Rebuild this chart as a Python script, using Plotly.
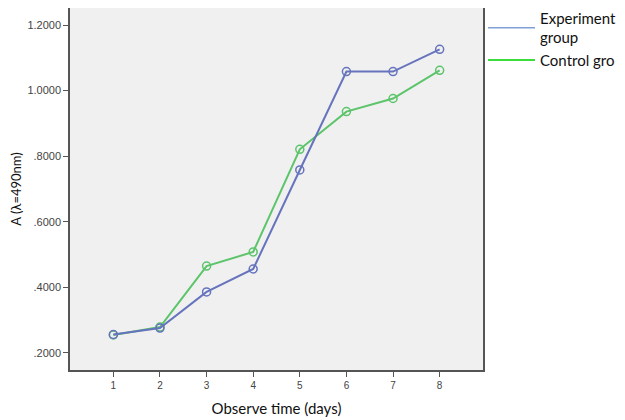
import plotly.graph_objects as go

days = [1, 2, 3, 4, 5, 6, 7, 8]
experiment = [0.256, 0.276, 0.386, 0.456, 0.758, 1.058, 1.058, 1.126]
control = [0.255, 0.279, 0.465, 0.508, 0.821, 0.936, 0.976, 1.062]
ytick_vals = [0.2, 0.4, 0.6, 0.8, 1.0, 1.2]
ytick_text = [".2000", ".4000", ".6000", ".8000", "1.0000", "1.2000"]

blue = "#6673bd"
green = "#5cc46a"

fig = go.Figure()
fig.add_trace(go.Scatter(x=days, y=control, mode="lines+markers", showlegend=False,
                         line=dict(color=green, width=2),
                         marker=dict(symbol="circle-open", size=8, color=green, line=dict(width=1.5))))
fig.add_trace(go.Scatter(x=days, y=experiment, mode="lines+markers", showlegend=False,
                         line=dict(color=blue, width=2),
                         marker=dict(symbol="circle-open", size=8, color=blue, line=dict(width=1.5))))
fig.add_trace(go.Scatter(x=[None], y=[None], mode="lines", name="Experiment<br>group",
                         line=dict(color="#7f9fd6", width=1.5)))
fig.add_trace(go.Scatter(x=[None], y=[None], mode="lines", name="Control gro",
                         line=dict(color="#3ddc3d", width=2)))

fig.update_layout(
    width=617, height=412,
    margin=dict(l=62, r=142, t=0, b=50, autoexpand=False),
    paper_bgcolor="white",
    plot_bgcolor="#f0f0f0",
    font=dict(family="Lato, Liberation Sans, sans-serif", color="#222"),
    legend=dict(x=1.0, y=1.017, xanchor="left", yanchor="top", xref="paper", yref="paper",
                font=dict(size=15, family="Lato, sans-serif", color="#111"),
                traceorder="normal", bgcolor="rgba(0,0,0,0)", itemwidth=47),
    xaxis=dict(range=[0.07, 8.93], tickvals=days, ticktext=[str(d) for d in days],
               automargin=False,
               showgrid=False, zeroline=False, showline=True, mirror=True,
               linecolor="#555", linewidth=1.5, ticks="outside", ticklen=5, tickcolor="#555",
               tickfont=dict(size=10, family="Liberation Sans, Arial, sans-serif", color="#444"),
               title=dict(text="Observe time (days)", font=dict(size=15, family="Lato, sans-serif", color="#111"),
                          standoff=14)),
    yaxis=dict(range=[0.148, 1.252], tickvals=ytick_vals, ticktext=ytick_text,
               automargin=False,
               showgrid=False, zeroline=False, showline=True, mirror=True,
               linecolor="#555", linewidth=1.5, ticks="outside", ticklen=5, tickcolor="#555",
               tickfont=dict(size=11, family="Liberation Sans, Arial, sans-serif", color="#444"),
               title=dict(text="A (λ=490nm)", font=dict(size=13, family="Lato, sans-serif", color="#111"),
                          standoff=19)),
)

fig.write_html("out.html")
